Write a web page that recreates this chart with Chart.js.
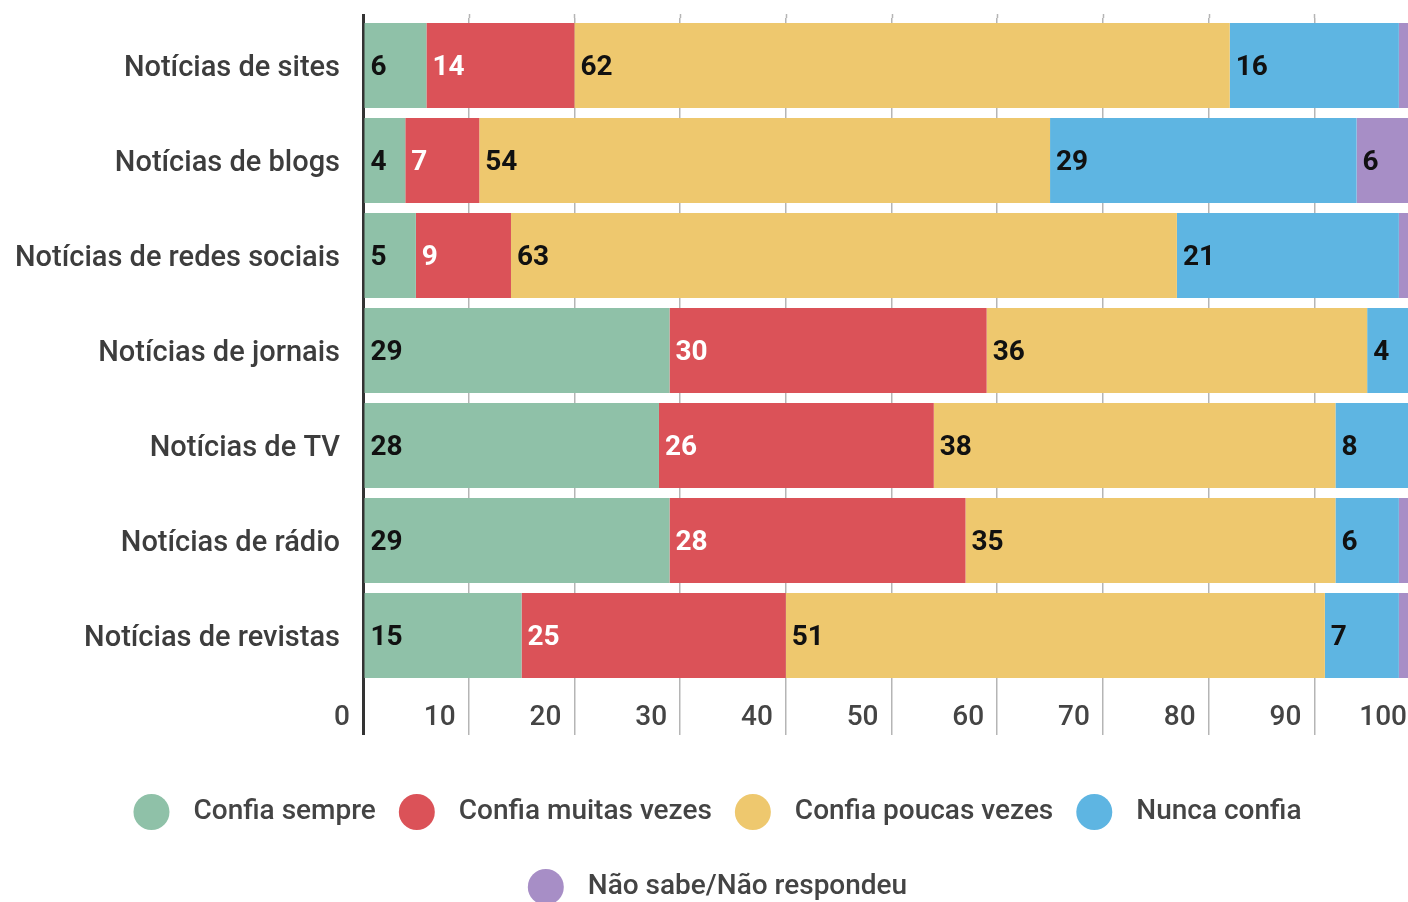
<!DOCTYPE html>
<html><head><meta charset="utf-8">
<script src="https://cdn.jsdelivr.net/npm/chart.js@4/dist/chart.umd.min.js"></script>
<style>
html,body{margin:0;padding:0;background:#fff;overflow:hidden;width:1408px;height:902px}
#wrap{position:absolute;left:0;top:0;width:1435px;height:923px}
</style></head><body>
<div id="wrap"><canvas id="c"></canvas></div>
<script>
const categories = ["Notícias de sites","Notícias de blogs","Notícias de redes sociais","Notícias de jornais","Notícias de TV","Notícias de rádio","Notícias de revistas"];
const seriesNames = ["Confia sempre","Confia muitas vezes","Confia poucas vezes","Nunca confia","Não sabe/Não respondeu"];
const confiaSempre = [6,4,5,29,28,29,15];
const confiaMuitasVezes = [14,7,9,30,26,28,25];
const confiaPoucasVezes = [62,54,63,36,38,35,51];
const nuncaConfia = [16,29,21,4,8,6,7];
const naoSabe = [1.5,6,1.5,1,0,1.5,1.5];
const xTicks = [0,10,20,30,40,50,60,70,80,90,100];
const seriesColors = ["#8fc1a8","#db5258","#eec86e","#5eb5e2","#a78ec6"];
const labelColors = ["#111","#fff","#111","#111","#111"];

const seriesData = [confiaSempre, confiaMuitasVezes, confiaPoucasVezes, nuncaConfia, naoSabe];
const GRID = "#b5b5b5", AXIS = "#333";

const valueLabels = {
  id: "valueLabels",
  afterDatasetsDraw(chart) {
    const ctx = chart.ctx;
    ctx.save();
    ctx.font = "bold 28px Roboto";
    ctx.textBaseline = "middle";
    ctx.textAlign = "left";
    chart.data.datasets.forEach((ds, di) => {
      const meta = chart.getDatasetMeta(di);
      meta.data.forEach((bar, i) => {
        const v = ds.data[i];
        if (!v) return;
        const p = bar.getProps(["x", "base", "y"], true);
        const w = p.x - p.base;
        const txt = String(v);
        const tw = ctx.measureText(txt).width;
        if (w < tw + 10) return;
        ctx.fillStyle = labelColors[di];
        ctx.fillText(txt, p.base + 6, p.y + 2);
      });
    });
    ctx.restore();
  }
};

const gridTop = {
  id: "gridTop",
  beforeDatasetsDraw(chart) {
    const ctx = chart.ctx, xs = chart.scales.x, top = chart.chartArea.top;
    ctx.save();
    xs.ticks.forEach(t => {
      const px = Math.round(xs.getPixelForValue(t.value)) + 0.5;
      ctx.strokeStyle = t.value === 0 ? AXIS : GRID;
      ctx.lineWidth = t.value === 0 ? 3 : 1.5;
      ctx.beginPath(); ctx.moveTo(px, top - 4); ctx.lineTo(px, top); ctx.stroke();
    });
    ctx.restore();
  }
};

const legendDots = {
  id: "legendDots",
  afterDraw(chart) {
    const lg = chart.legend, ctx = chart.ctx;
    if (!lg || !lg.legendHitBoxes) return;
    ctx.save();
    lg.legendHitBoxes.forEach((hb, i) => {
      const item = lg.legendItems[i];
      ctx.fillStyle = seriesColors[item.datasetIndex];
      ctx.beginPath();
      ctx.arc(hb.left + 18, hb.top + hb.height / 2, 18, 0, Math.PI * 2);
      ctx.fill();
    });
    ctx.restore();
  }
};

new Chart(document.getElementById("c"), {
  type: "bar",
  data: {
    labels: categories,
    datasets: seriesNames.map((n, i) => ({
      label: n,
      data: seriesData[i],
      backgroundColor: seriesColors[i],
      borderWidth: 0,
      categoryPercentage: 85 / 95,
      barPercentage: 1,
      stack: "s"
    }))
  },
  options: {
    indexAxis: "y",
    responsive: true,
    maintainAspectRatio: false,
    animation: false,
    devicePixelRatio: 1,
    layout: { padding: { left: 15, right: 15, top: 18, bottom: 0 } },
    scales: {
      x: {
        type: "linear", stacked: true, min: 0, max: 100, position: "bottom",
        afterBuildTicks: s => { s.ticks = xTicks.map(v => ({ value: v })); },
        afterFit: s => { s.height = 80; },
        border: { display: false },
        grid: {
          color: c => (c.tick && c.tick.value === 0) ? AXIS : GRID,
          tickColor: c => (c.tick && c.tick.value === 0) ? AXIS : GRID,
          lineWidth: c => (c.tick && c.tick.value === 0) ? 3 : 1.5,
          tickLength: 52, drawTicks: true, drawOnChartArea: true
        },
        ticks: {
          align: "end", labelOffset: -13, padding: -34, autoSkip: false, maxRotation: 0,
          color: "#444", font: { family: "Roboto", size: 28, weight: "500" }
        }
      },
      y: {
        type: "category", stacked: true,
        afterFit: s => { s.width = 348; s.paddingTop = 0; s.paddingBottom = 0; },
        border: { display: false },
        grid: { display: false, drawTicks: false },
        ticks: { padding: 23, labelOffset: 3, color: "#3d3d3d", font: { family: "Roboto", size: 29, weight: "500" } }
      }
    },
    plugins: {
      tooltip: { enabled: false },
      legend: {
        position: "bottom",
        labels: {
          boxWidth: 46, boxHeight: 52, padding: 23, color: "#444",
          font: { family: "Roboto", size: 28, weight: "500" },
          generateLabels: chart => chart.data.datasets.map((ds, i) => ({
            text: ds.label, datasetIndex: i, fillStyle: "rgba(0,0,0,0)",
            strokeStyle: "rgba(0,0,0,0)", lineWidth: 0, hidden: false, fontColor: "#444"
          }))
        }
      }
    }
  },
  plugins: [valueLabels, gridTop, legendDots]
});
</script>
</body></html>
